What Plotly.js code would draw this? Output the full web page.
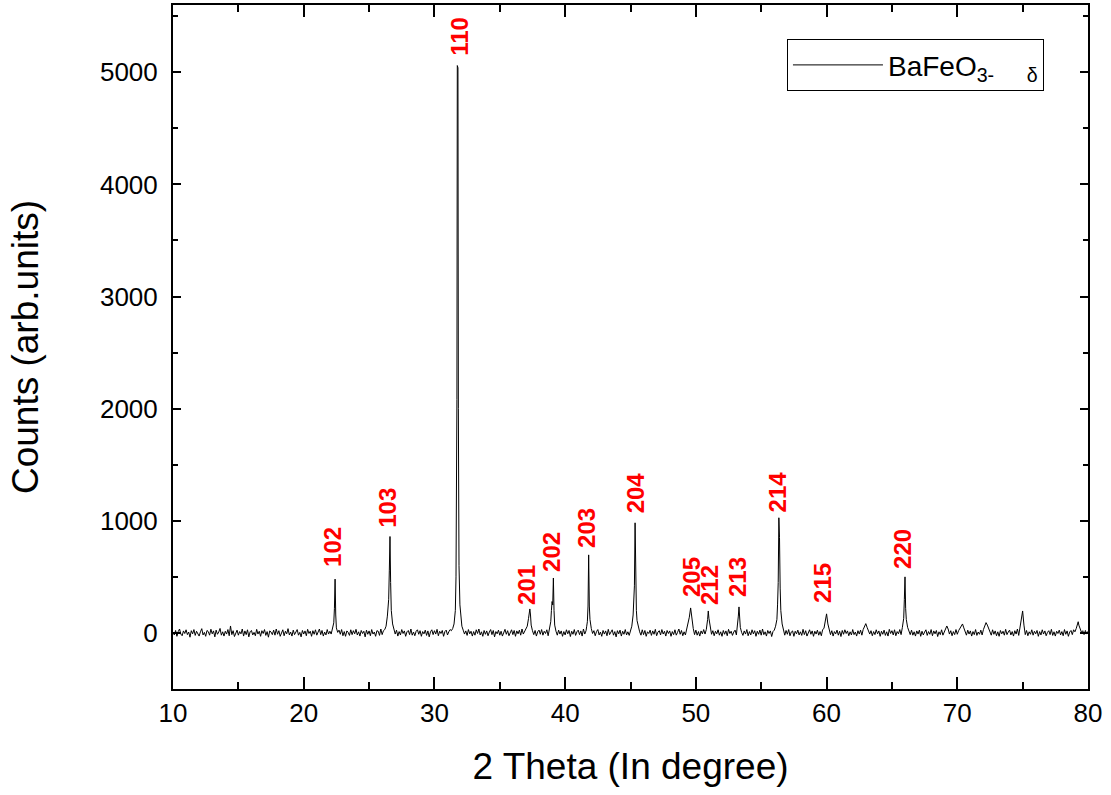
<!DOCTYPE html>
<html>
<head>
<meta charset="utf-8">
<script src="https://cdn.plot.ly/plotly-3.0.1.min.js"></script>
<style>html,body{margin:0;padding:0;background:#fff;}#chart{width:1111px;height:795px;}</style>
</head>
<body>
<div id="chart"></div>
<script>
// 2 Theta (degree) and counts
const twoTheta = [
10.0,10.1,10.2,10.3,10.4,10.5,10.6,10.7,10.8,10.9,
11.0,11.1,11.2,11.3,11.4,11.5,11.6,11.7,11.8,11.9,
12.0,12.1,12.2,12.3,12.4,12.5,12.6,12.7,12.8,12.9,
13.0,13.1,13.2,13.3,13.4,13.5,13.6,13.7,13.8,13.9,
14.0,14.1,14.2,14.3,14.4,14.5,14.6,14.7,14.8,14.9,
15.0,15.1,15.2,15.3,15.4,15.5,15.6,15.7,15.8,15.9,
16.0,16.1,16.2,16.3,16.4,16.5,16.6,16.7,16.8,16.9,
17.0,17.1,17.2,17.3,17.4,17.5,17.6,17.7,17.8,17.9,
18.0,18.1,18.2,18.3,18.4,18.5,18.6,18.7,18.8,18.9,
19.0,19.1,19.2,19.3,19.4,19.5,19.6,19.7,19.8,19.9,
20.0,20.1,20.2,20.3,20.4,20.5,20.6,20.7,20.8,20.9,
21.0,21.1,21.2,21.3,21.4,21.5,21.6,21.7,21.8,21.9,
22.0,22.1,22.2,22.3,22.35,22.4,22.45,22.5,22.6,22.7,22.8,22.9,
23.0,23.1,23.2,23.3,23.4,23.5,23.6,23.7,23.8,23.9,
24.0,24.1,24.2,24.3,24.4,24.5,24.6,24.7,24.8,24.9,
25.0,25.1,25.2,25.3,25.4,25.5,25.6,25.7,25.8,25.9,
26.0,26.1,26.2,26.3,26.4,26.5,26.55,26.6,26.65,26.7,26.8,26.9,
27.0,27.1,27.2,27.3,27.4,27.5,27.6,27.7,27.8,27.9,
28.0,28.1,28.2,28.3,28.4,28.5,28.6,28.7,28.8,28.9,
29.0,29.1,29.2,29.3,29.4,29.5,29.6,29.7,29.8,29.9,
30.0,30.1,30.2,30.3,30.4,30.5,30.6,30.7,30.8,30.9,
31.0,31.1,31.2,31.3,31.4,31.5,31.6,31.65,31.7,31.72,31.75,31.8,31.83,31.88,31.95,
32.0,32.1,32.2,32.3,32.4,32.5,32.6,32.7,32.8,32.9,
33.0,33.1,33.2,33.3,33.4,33.5,33.6,33.7,33.8,33.9,
34.0,34.1,34.2,34.3,34.4,34.5,34.6,34.7,34.8,34.9,
35.0,35.1,35.2,35.3,35.4,35.5,35.6,35.7,35.8,35.9,
36.0,36.1,36.2,36.3,36.4,36.5,36.6,36.7,36.8,36.9,
37.0,37.1,37.2,37.3,37.35,37.4,37.5,37.6,37.7,37.8,37.9,
38.0,38.1,38.2,38.3,38.4,38.5,38.6,38.7,38.8,38.9,38.95,39.0,39.05,39.1,39.15,39.2,39.3,39.4,39.5,39.6,39.7,39.8,39.9,
40.0,40.1,40.2,40.3,40.4,40.5,40.6,40.7,40.8,40.9,
41.0,41.1,41.2,41.3,41.4,41.5,41.6,41.65,41.7,41.75,41.8,41.85,41.9,42.0,42.1,42.2,42.3,42.4,42.5,42.6,42.7,42.8,42.9,
43.0,43.1,43.2,43.3,43.4,43.5,43.6,43.7,43.8,43.9,
44.0,44.1,44.2,44.3,44.4,44.5,44.6,44.7,44.8,44.9,
45.0,45.1,45.2,45.25,45.3,45.35,45.4,45.45,45.5,45.6,45.7,45.8,45.9,
46.0,46.1,46.2,46.3,46.4,46.5,46.6,46.7,46.8,46.9,
47.0,47.1,47.2,47.3,47.4,47.5,47.6,47.7,47.8,47.9,
48.0,48.1,48.2,48.3,48.4,48.5,48.6,48.7,48.8,48.9,
49.0,49.1,49.2,49.3,49.4,49.5,49.6,49.7,49.8,49.9,
50.0,50.1,50.2,50.3,50.4,50.5,50.6,50.7,50.8,50.9,50.95,51.0,51.1,51.2,51.3,51.4,51.5,51.6,51.7,51.8,51.9,
52.0,52.1,52.2,52.3,52.4,52.5,52.6,52.7,52.8,52.9,
53.0,53.1,53.15,53.2,53.25,53.3,53.35,53.4,53.5,53.6,53.7,53.8,53.9,
54.0,54.1,54.2,54.3,54.4,54.5,54.6,54.7,54.8,54.9,
55.0,55.1,55.2,55.3,55.4,55.5,55.6,55.7,55.8,55.9,
56.0,56.1,56.2,56.25,56.3,56.35,56.4,56.45,56.5,56.6,56.7,56.8,56.9,
57.0,57.1,57.2,57.3,57.4,57.5,57.6,57.7,57.8,57.9,
58.0,58.1,58.2,58.3,58.4,58.5,58.6,58.7,58.8,58.9,
59.0,59.1,59.2,59.3,59.4,59.5,59.6,59.7,59.8,59.9,60.0,60.1,60.2,60.3,60.4,60.5,60.6,60.7,60.8,60.9,
61.0,61.1,61.2,61.3,61.4,61.5,61.6,61.7,61.8,61.9,
62.0,62.1,62.2,62.3,62.4,62.5,62.6,62.7,62.8,62.9,63.0,63.1,63.2,63.3,63.4,63.5,63.6,63.7,63.8,63.9,
64.0,64.1,64.2,64.3,64.4,64.5,64.6,64.7,64.8,64.9,
65.0,65.1,65.2,65.3,65.4,65.5,65.6,65.7,65.8,65.9,65.95,66.0,66.05,66.1,66.2,66.3,66.4,66.5,66.6,66.7,66.8,66.9,
67.0,67.1,67.2,67.3,67.4,67.5,67.6,67.7,67.8,67.9,
68.0,68.1,68.2,68.3,68.4,68.5,68.6,68.7,68.8,68.9,
69.0,69.1,69.2,69.3,69.4,69.5,69.6,69.7,69.8,69.9,
70.0,70.1,70.2,70.3,70.4,70.5,70.6,70.7,70.8,70.9,
71.0,71.1,71.2,71.3,71.4,71.5,71.6,71.7,71.8,71.9,
72.0,72.1,72.2,72.3,72.4,72.5,72.6,72.7,72.8,72.9,
73.0,73.1,73.2,73.3,73.4,73.5,73.6,73.7,73.8,73.9,
74.0,74.1,74.2,74.3,74.4,74.5,74.6,74.7,74.8,74.9,75.0,75.1,75.2,75.3,75.4,75.5,75.6,75.7,75.8,75.9,
76.0,76.1,76.2,76.3,76.4,76.5,76.6,76.7,76.8,76.9,
77.0,77.1,77.2,77.3,77.4,77.5,77.6,77.7,77.8,77.9,
78.0,78.1,78.2,78.3,78.4,78.5,78.6,78.7,78.8,78.9,
79.0,79.1,79.2,79.25,79.3,79.4,79.5,79.6,79.7,79.8,79.9,80.0
];
const counts = [
5,-18,22,-30,12,35,-10,-25,18,-5,
28,-15,8,-38,20,-8,30,-22,15,-12,
-28,10,38,-18,5,-30,22,12,-20,33,
-8,18,-35,25,-12,8,40,-20,10,-28,
15,-10,30,-25,62,-15,20,-32,8,25,
-20,12,-8,35,-28,18,-15,28,-35,10,
22,-18,5,-25,32,-10,15,-30,20,-5,
30,-22,12,-38,18,8,-15,25,-20,35,
-12,20,-30,10,28,-25,15,-8,38,-18,
8,-28,25,-15,12,30,-20,5,-35,22,
-10,18,-25,32,-5,15,-30,20,-12,28,
-20,10,35,-15,22,-28,8,-18,30,-10,
15,-10,30,90,220,480,160,45,5,25,-12,30,
-25,12,-30,18,5,-22,28,-15,20,-8,
32,-18,10,-28,22,-5,15,-35,25,-12,
18,-25,30,-10,8,-30,20,15,-22,35,
-15,20,30,60,150,300,560,860,450,200,80,30,
-10,25,-28,12,-18,30,-5,18,-30,10,
22,-15,35,-20,8,-25,15,28,-12,20,
-30,12,-8,25,-22,18,-35,10,28,-15,
20,-10,32,-25,15,-5,22,-30,12,25,
-18,10,30,20,40,80,200,500,2050,2080,5060,5040,2000,600,250,
150,60,25,-10,18,-22,30,-8,15,-28,
12,-20,28,-5,35,-18,10,-30,22,-12,
18,-25,8,30,-15,22,-35,12,-8,25,
-20,15,-28,10,32,-12,20,-25,5,28,
-15,22,-30,18,-8,25,-20,35,-10,15,
30,60,130,214,160,70,20,-15,22,-28,10,
25,-12,30,-20,15,-5,28,-25,50,100,200,280,250,490,200,70,15,-20,25,-10,18,-30,12,
-18,28,-8,22,-32,15,-12,30,-22,10,
25,-15,18,-28,35,-10,20,60,100,240,696,240,120,40,-5,20,-25,12,30,-18,8,-30,22,
-10,18,-25,32,-15,5,28,-20,12,-35,
20,-8,25,-28,15,-12,30,-18,10,-22,
35,60,160,280,420,982,420,200,110,45,10,-20,28,
-15,22,-30,10,-5,25,-22,18,-12,32,
-25,8,20,-18,30,-10,15,-28,22,-5,
18,-30,12,-15,28,-20,5,35,-12,22,
-25,10,-18,30,70,140,223,120,40,-15,
25,-20,12,-28,18,-8,30,-10,30,120,196,130,40,-12,20,-25,15,-8,28,-20,10,
-30,22,-12,18,-25,32,-5,15,-22,8,
25,-18,30,80,150,232,110,50,5,-22,18,-10,30,
-25,12,-18,28,-8,20,-30,15,-12,25,
-20,35,-15,10,-28,22,-5,18,-32,12,
25,60,120,250,450,1027,850,400,200,80,20,-20,22,
-12,30,-25,8,18,-30,15,-8,25,-18,
10,-22,32,-15,20,-28,5,28,-12,18,
-30,15,-10,25,-20,12,-25,30,40,90,170,80,25,-15,20,-28,12,-8,25,-20,
15,-32,22,-12,28,-5,18,-25,10,-18,
30,-15,8,-28,20,-10,25,-20,30,60,83,50,25,-10,20,-25,12,-15,28,-8,
18,-30,15,-12,25,-22,10,-28,32,-5,
20,-18,28,-25,12,-8,30,-15,50,130,300,500,220,120,50,20,-15,25,-20,10,-28,18,
-10,25,-30,15,-18,8,28,-22,12,-12,
30,-25,18,-8,22,-32,10,-15,28,-20,
5,40,62,35,-10,20,-25,12,-15,30,
-12,20,40,60,80,45,10,-20,25,-10,
18,-28,12,-15,30,-22,8,-12,25,-18,
30,60,92,70,45,15,-20,28,-12,18,
-25,10,-30,22,-8,15,-20,32,-15,8,
25,-18,12,-28,20,-10,35,-22,60,130,196,70,-15,22,-25,10,-12,28,-20,15,
-8,22,-30,12,-18,28,-10,18,-25,5,
20,-15,32,-22,10,-28,15,-5,25,-18,
12,-25,30,-12,18,-30,8,22,-15,28,
10,40,80,100,70,35,5,20,-15,22,-10,15
];

// Miller-index labels (hkl) and where their lower end sits (2θ, counts)
const hklLabels = ['102','103','110','201','202','203','204','205','212','213','214','215','220'];
const labelTheta = [22.24,26.45,31.96,37.08,39.00,41.68,45.35,49.71,51.09,53.23,56.21,59.73,65.85];
const labelCounts = [580,929,5134,241,536,750,1054,312,241,312,1062,259,562];

const seriesName = 'BaFeO<sub>3-\u00a0\u00a0\u00a0\u00a0\u00a0\u00a0δ</sub>';
const xTitle = '2 Theta (In degree)';
const yTitle = 'Counts (arb.units)';

const font = 'Liberation Sans, Arial, sans-serif';

const annotations = hklLabels.map((t, i) => ({
  x: labelTheta[i], y: labelCounts[i], xref: 'x', yref: 'y',
  text: t, showarrow: false, textangle: -90,
  xanchor: 'center', yanchor: 'bottom', borderpad: 0,
  font: {family: font, size: 24, color: '#ff0000', weight: 'bold'}
}));

const trace = {
  x: twoTheta, y: counts, type: 'scatter', mode: 'lines',
  name: seriesName, line: {color: '#000000', width: 1}
};

const axisCommon = {
  showline: true, linecolor: '#000', linewidth: 2, mirror: 'allticks',
  ticks: 'inside', tickcolor: '#000', tickwidth: 2,
  showgrid: false, zeroline: false,
  tickfont: {family: font, size: 26, color: '#000'}
};

const layout = {
  width: 1111, height: 795,
  margin: {l: 173, r: 23, t: 5, b: 106},
  paper_bgcolor: '#fff', plot_bgcolor: '#fff',
  showlegend: true,
  legend: {
    x: 0.671, y: 0.950, xanchor: 'left', yanchor: 'top',
    bordercolor: '#000', borderwidth: 1, bgcolor: '#fff',
    itemwidth: 90,
    font: {family: font, size: 28, color: '#000'}
  },
  xaxis: Object.assign({}, axisCommon, {
    range: [10, 80], tick0: 10, dtick: 10, ticklen: 12,
    minor: {dtick: 5, ticklen: 7, tickwidth: 2, tickcolor: '#000', ticks: 'inside'},
    title: {text: xTitle, font: {family: font, size: 37, color: '#000'}, standoff: 26}
  }),
  yaxis: Object.assign({}, axisCommon, {
    range: [-500, 5600], tick0: 0, dtick: 1000, ticklen: 8,
    minor: {dtick: 500, ticklen: 5, tickwidth: 2, tickcolor: '#000', ticks: 'inside'},
    ticklabelstandoff: 8,
    title: {text: yTitle, font: {family: font, size: 37, color: '#000'}, standoff: 50}
  }),
  annotations: annotations
};

Plotly.newPlot('chart', [trace], layout, {staticPlot: true, displayModeBar: false});
</script>
</body>
</html>
